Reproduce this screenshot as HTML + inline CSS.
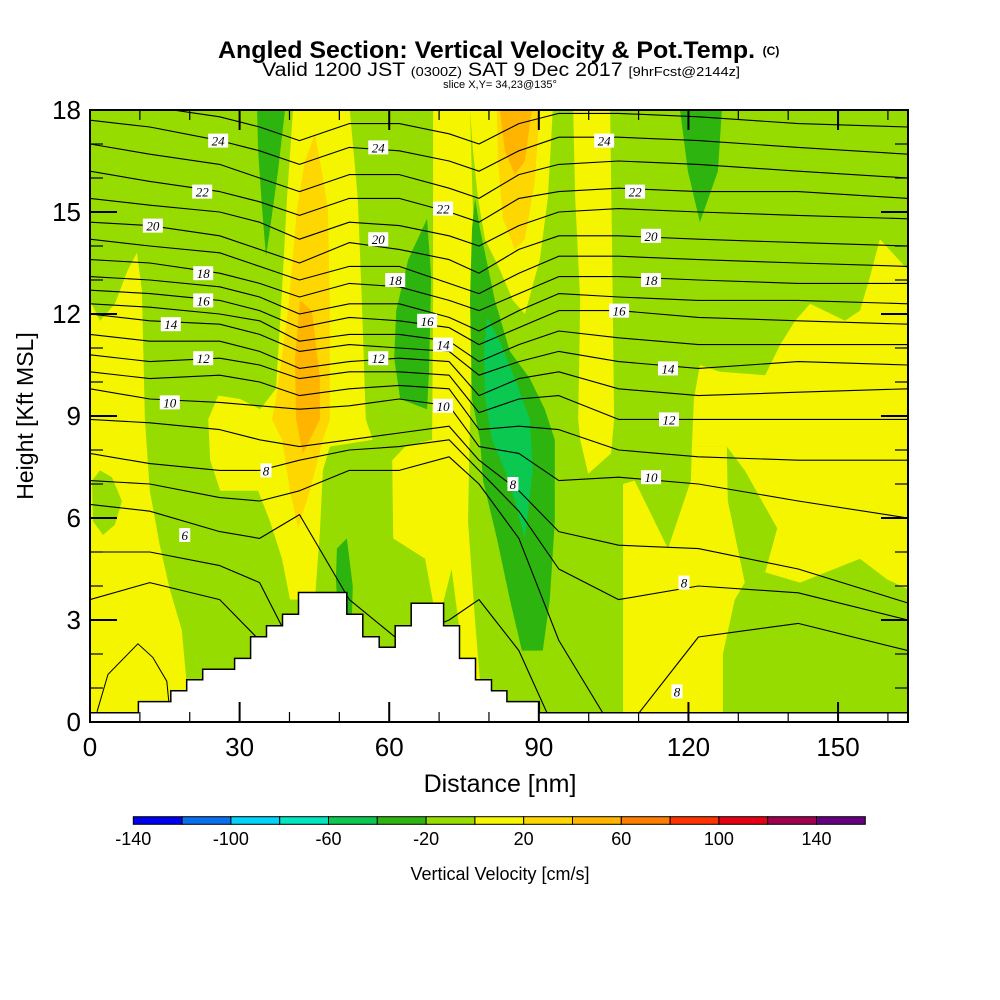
<!DOCTYPE html>
<html><head><meta charset="utf-8"><title>Angled Section: Vertical Velocity & Pot.Temp.</title>
<style>
html,body{margin:0;padding:0;background:#fff;}
svg{display:block;font-family:"Liberation Sans",Arial,sans-serif;}
</style></head>
<body>
<svg id="chart" width="1000" height="1000" viewBox="0 0 1000 1000" xmlns="http://www.w3.org/2000/svg">
  <defs><clipPath id="plotClip"><rect x="90" y="110" width="818" height="612"/></clipPath></defs>
  <g>
    <text x="218" y="58" font-size="24" font-weight="bold" textLength="537" lengthAdjust="spacingAndGlyphs">Angled Section: Vertical Velocity &amp; Pot.Temp.</text>
    <text x="771" y="55" text-anchor="middle" font-size="12" font-weight="bold">(C)</text>
    <text x="262" y="76" font-size="19" textLength="478" lengthAdjust="spacingAndGlyphs">Valid 1200 JST <tspan font-size="13">(0300Z)</tspan> SAT 9 Dec 2017 <tspan font-size="13">[9hrFcst@2144z]</tspan></text>
    <text x="500" y="88" text-anchor="middle" font-size="11">slice X,Y= 34,23@135°</text>
  </g>
  <g id="plot" clip-path="url(#plotClip)"></g>
  <g id="overlay"></g>
  <g id="axes"></g>
  <g id="cbar"></g>
  <text x="500" y="792" text-anchor="middle" font-size="25">Distance [nm]</text>
  <text x="0" y="0" transform="translate(33,416) rotate(-90)" text-anchor="middle" font-size="23">Height [Kft MSL]</text>
  <text x="500" y="880" text-anchor="middle" font-size="18">Vertical Velocity [cm/s]</text>
</svg>
<script>
// ---------- data ----------
const xTicks = [0, 30, 60, 90, 120, 150];
const yTicks = [0, 3, 6, 9, 12, 15, 18];
const cbarLevels = [-140,-120,-100,-80,-60,-40,-20,0,20,40,60,80,100,120,140,160];
const cbarLabels = [-140,-100,-60,-20,20,60,100,140];
const cbarColors = ["#0000f0","#0a6ef0","#00d2fa","#00e6be","#0ac850","#2db40f","#96dc00","#f5f500","#ffd700","#ffb400","#ff7d00","#ff3200","#e60014","#a00050","#640080"];

// vertical velocity regions [nm, kft]
const yellowLeft = [[0,12.4],[2.0,11.8],[5.0,12.3],[7.6,13.3],[9.4,13.8],[10.4,12.7],[11.0,8.9],[12.0,6.8],[14.0,5.2],[16.0,3.9],[18.4,2.7],[20.1,0],[0,0]];
const greenEllipseLeft = [[0.4,7.1],[2.0,7.4],[4.4,7.2],[6.4,6.5],[5.0,5.8],[2.6,5.5],[0.6,5.9]];
const yellowCenter = [[40.7,18],[52.1,18],[53.7,15.4],[54.5,12.4],[55.3,8.9],[56.7,8.3],[48.1,8.1],[46.7,7.4],[46.1,5.6],[45.1,3.6],[40.1,3.6],[38.5,4.8],[36.1,5.9],[33.7,6.8],[26.1,6.8],[24.1,7.7],[23.7,8.9],[25.7,9.6],[30.1,9.5],[34.1,9.2],[37.3,9.8],[38.5,12.7],[39.5,15.4]];
const goldCenter = [[45.1,17.3],[46.5,16.2],[47.7,15.1],[48.1,12.1],[48.1,8.9],[46.7,8.3],[44.1,6.8],[41.7,5.7],[40.1,6.8],[38.5,8.3],[36.5,8.9],[37.3,9.5],[39.7,12.1],[41.5,15.1],[43.1,16.5]];
const orangeCenter = [[42.1,12.4],[44.5,12.1],[46.1,10.1],[46.1,8.9],[44.1,8.3],[42.7,7.9],[41.3,8.9],[41.1,10.7]];
const darkGreenTopLeft = [[33.5,18],[39.1,18],[37.7,16.2],[36.1,14.5],[35.3,13.7],[34.5,15.1],[33.7,16.8]];
const yellowStripMid = [[68.8,18],[76.2,18],[77.0,13.9],[76.2,8.9],[75.8,5.9],[77.2,3.0],[78.2,1.2],[74.2,0.9],[70.2,2.4],[67.2,4.8],[60.8,5.4],[60.6,7.7],[63.2,8.1],[68.6,8.3],[68.8,12.4]];
const greenSpikeMid = [[69.6,2.8],[72.5,4.5],[74.2,2.6]];
const darkGreenMid = [[67.6,14.8],[68.4,13.1],[68.0,10.4],[67.6,9.2],[62.2,9.5],[61.0,10.7],[61.4,12.1],[63.8,13.6]];
const darkGreenSmall = [[49.5,5.1],[51.5,5.4],[52.7,4.0],[52.5,3.0],[49.7,3.2],[49.3,4.2]];
const yellowTop = [[76.2,18],[92.8,18],[91.8,15.4],[90.2,13.6],[87.2,12.0],[84.8,12.4],[82.2,13.3],[79.2,14.2],[77.8,15.4],[76.8,16.8]];
const goldTop = [[81.6,18],[90.2,18],[89.2,15.9],[87.2,14.2],[85.2,13.9],[82.8,14.8],[81.8,16.5]];
const orangeTop = [[82.2,18],[88.6,18],[87.2,16.5],[85.2,16.1],[83.2,16.8]];
const darkGreenDiagonal = [[77.2,15.4],[78.2,14.5],[81.2,12.4],[84.2,10.9],[88.2,10.1],[91.2,9.2],[93.2,8.3],[93.2,5.9],[92.2,3.6],[90.8,2.1],[86.6,2.1],[84.2,3.6],[81.6,5.4],[78.8,7.1],[78.2,8.3],[76.6,9.5],[76.2,12.4],[76.6,14.5]];
const tealDiagonal = [[79.6,11.9],[82.2,11.2],[85.2,10.1],[88.2,8.9],[88.8,7.4],[87.2,5.4],[85.2,6.5],[83.2,7.4],[80.6,8.3],[79.2,9.5],[79.0,10.9]];
const yellowStripRight = [[96.9,18],[104.3,18],[104.7,13.9],[105.1,8.9],[104.5,7.9],[99.9,7.3],[98.3,8.3],[97.9,8.9],[98.3,12.4],[97.3,15.4]];
const darkGreenTopRight = [[118.3,18],[126.7,18],[125.9,16.2],[122.3,14.7],[119.9,16.2]];
const yellowRightBig = [[164,13.3],[158.4,14.2],[156.4,13.1],[154.4,12.1],[151.4,11.8],[144.4,12.3],[141.4,11.8],[138.4,11.1],[135.4,10.2],[126.3,10.3],[122.3,10.5],[121.1,9.5],[120.7,8.1],[127.7,8.1],[131.3,7.4],[137.8,5.7],[135.4,4.4],[142.4,4.1],[154.4,4.8],[159.8,4.2],[164,3.9]];
const yellowRightColumn = [[106.9,7.0],[109.2,7.1],[115.9,5.1],[120.5,7.1],[120.7,8.1],[127.7,8.1],[127.9,6.5],[131.3,4.1],[129.3,3.6],[126.9,2.0],[126.9,0],[106.9,0]];

// potential temperature contours: heights (kft) at node distances (nm)
const thetaNodes = [0,12,26,34,42,52,62,72,78,86,94,106,122,142,164];
const thetaLevels = [25,24,23,22,21,20,19,18,17,16,15,14,13,12,11,10,9,8,7,6,5,4];
const theta25 = [18.3,18.1,17.8,17.5,17.1,17.6,17.6,17.3,17.0,17.6,17.9,17.9,17.8,17.6,17.5];
const theta24 = [17.7,17.5,17.1,16.8,16.4,16.9,16.8,16.5,16.2,16.8,17.2,17.2,17.1,16.9,16.7];
const theta23 = [17.0,16.7,16.4,16.0,15.6,16.1,16.1,15.7,15.4,16.1,16.4,16.5,16.4,16.2,16.0];
const theta22 = [16.2,15.9,15.6,15.3,14.9,15.4,15.4,15.0,14.7,15.4,15.6,15.7,15.6,15.6,15.4];
const theta21 = [15.4,15.2,15.0,14.7,14.2,14.7,14.6,14.3,14.0,14.6,15.0,15.1,15.0,14.9,14.8];
const theta20 = [14.7,14.6,14.3,13.9,13.5,14.1,13.9,13.6,13.2,13.9,14.3,14.3,14.2,14.1,14.0];
const theta19 = [14.2,14.0,13.8,13.4,13.0,13.4,13.4,12.9,12.6,13.2,13.7,13.7,13.6,13.5,13.4];
const theta18 = [13.6,13.5,13.2,12.9,12.5,12.9,12.8,12.4,12.1,12.6,13.1,13.1,13.0,12.9,12.9];
const theta17 = [13.1,13.0,12.8,12.5,12.0,12.3,12.3,11.9,11.5,12.1,12.6,12.5,12.4,12.4,12.3];
const theta16 = [12.7,12.6,12.4,12.1,11.6,11.9,11.8,11.6,11.1,11.6,12.1,12.1,11.9,11.8,11.7];
const theta15 = [12.3,12.2,12.0,11.8,11.2,11.4,11.4,11.2,10.6,11.1,11.5,11.3,11.1,11.1,11.1];
const theta14 = [12.0,11.8,11.7,11.4,10.9,11.1,11.0,10.9,10.2,10.6,10.9,10.6,10.4,10.6,10.5];
const theta13 = [11.4,11.2,11.2,10.9,10.4,10.6,10.7,10.6,9.6,10.1,10.3,9.8,9.6,9.7,9.8];
const theta12 = [10.8,10.6,10.7,10.5,10.1,10.3,10.3,10.2,9.1,9.5,9.6,8.9,8.9,8.9,8.9];
const theta11 = [10.3,10.1,10.2,10.0,9.6,9.8,9.9,9.8,8.6,8.7,8.6,8.0,7.8,7.7,7.7];
const theta10 = [9.8,9.5,9.4,9.3,9.2,9.3,9.5,9.3,8.1,7.9,7.1,7.2,7.0,6.5,6.0];
const theta9 = [8.9,8.8,8.6,8.3,8.1,8.3,8.5,8.7,7.7,6.8,5.6,5.2,5.1,4.5,3.5];
const theta8 = [7.9,7.6,7.4,7.4,7.7,8.0,8.1,8.3,7.4,6.2,4.5,3.6,4.0,3.8,3.0];
const theta7 = [7.1,7.0,6.6,6.5,6.8,7.4,7.4,7.8,7.0,5.4,2.4,-0.5,2.5,2.9,2.1];
const theta6 = [6.4,6.2,5.6,5.4,6.1,3.6,2.4,3.0,3.6,2.1,-0.5,-1.1,-0.5,-0.5,-0.5];
const theta5 = [5.0,5.0,4.6,4.1,1.8,-1.1,-1.1,-1.1,-1.1,-1.1,-1.1,-1.1,-1.1,-1.1,-1.1];
const theta4 = [3.6,4.1,3.6,2.4,-1.1,-1.1,-1.1,-1.1,-1.1,-1.1,-1.1,-1.1,-1.1,-1.1,-1.1];
const thetaRing3 = [[1.4,0.3],[3.6,1.4],[9.6,2.3],[12.6,1.9],[15.4,1.2],[16.0,0.3]];

// contour labels
const labelText = ["24","22","20","18","16","14","12","10","8","6","24","22","20","18","16","14","12","10","8","24","22","20","18","16","14","12","10","8","8"];
const labelNm = [25.7,22.5,12.6,22.7,22.7,16.2,22.7,16.0,35.3,19.0,57.8,70.8,57.8,61.2,67.6,70.8,57.8,70.8,84.8,103.1,109.3,112.5,112.5,106.1,115.9,116.1,112.5,119.1,117.7];
const labelKft = [17.1,15.6,14.6,13.2,12.4,11.7,10.7,9.4,7.4,5.5,16.9,15.1,14.2,13.0,11.8,11.1,10.7,9.3,7.0,17.1,15.6,14.3,13.0,12.1,10.4,8.9,7.2,4.1,0.9];

// terrain (step profile)
const terrainEdges = [0,9.7,16.2,19.4,22.6,29.0,32.2,35.4,38.6,41.8,51.5,54.7,58.0,61.2,64.4,70.9,74.1,77.3,80.5,83.6,90.1,165];
const terrainHeights = [0.27,0.6,0.92,1.24,1.55,1.87,2.51,2.83,3.17,3.81,3.17,2.51,2.2,2.83,3.49,2.83,1.87,1.24,0.92,0.6,0.27];

// ---------- scales ----------
const X0 = 90, PXNM = 4.987, Y0 = 722, PXK = 34, XR = 908, YT = 110;
function sx(v){ return X0 + v*PXNM; }
function sy(v){ return Y0 - v*PXK; }
const NS = "http://www.w3.org/2000/svg";
function mk(tag, attrs, parent){ const e=document.createElementNS(NS,tag); for(const k in attrs) e.setAttribute(k,attrs[k]); parent.appendChild(e); return e; }
function pts(arr){ return arr.map(p=>sx(p[0]).toFixed(1)+","+sy(p[1]).toFixed(1)).join(" "); }

const plot = document.getElementById("plot");
const overlay = document.getElementById("overlay");
const axes = document.getElementById("axes");
const cbar = document.getElementById("cbar");

const bg = mk("rect",{x:X0,y:YT,width:XR-X0,height:Y0-YT,fill:cbarColors[6]},plot);



const regions = [
  ["yellow-left-region", yellowLeft, cbarColors[7]],
  ["green-ellipse-left", greenEllipseLeft, cbarColors[6]],
  ["yellow-center-region", yellowCenter, cbarColors[7]],
  ["gold-center-region", goldCenter, cbarColors[8]],
  ["orange-center-region", orangeCenter, cbarColors[9]],
  ["dark-green-top-left", darkGreenTopLeft, cbarColors[5]],
  ["yellow-strip-mid", yellowStripMid, cbarColors[7]],
  ["green-spike-mid", greenSpikeMid, cbarColors[6]],
  ["dark-green-mid", darkGreenMid, cbarColors[5]],
  ["dark-green-small", darkGreenSmall, cbarColors[5]],
  ["yellow-top-region", yellowTop, cbarColors[7]],
  ["gold-top-region", goldTop, cbarColors[8]],
  ["orange-top-region", orangeTop, cbarColors[9]],
  ["dark-green-diagonal", darkGreenDiagonal, cbarColors[5]],
  ["teal-diagonal", tealDiagonal, cbarColors[4]],
  ["yellow-strip-right", yellowStripRight, cbarColors[7]],
  ["dark-green-top-right", darkGreenTopRight, cbarColors[5]],
  ["yellow-right-region", yellowRightBig, cbarColors[7]],
  ["yellow-right-column", yellowRightColumn, cbarColors[7]]
];
regions.forEach(r=>{
  const p = mk("polygon",{points:pts(r[1]),fill:r[2]},plot);
  
  
});

const thetaSeries = [theta25,theta24,theta23,theta22,theta21,theta20,theta19,theta18,theta17,theta16,theta15,theta14,theta13,theta12,theta11,theta10,theta9,theta8,theta7,theta6,theta5,theta4];
thetaSeries.forEach((s,i)=>{
  const arr = thetaNodes.map((n,j)=>[n,s[j]]);
  const l = mk("polyline",{points:pts(arr),fill:"none",stroke:"#000","stroke-width":1.1,"stroke-linejoin":"round"},plot);
  
  
});
const ring = mk("polyline",{points:pts(thetaRing3),fill:"none",stroke:"#000","stroke-width":1},plot);



let tp = [[0,-0.1]];
terrainHeights.forEach((h,i)=>{ tp.push([terrainEdges[i],h]); tp.push([terrainEdges[i+1],h]); });
tp.push([165,-0.1]);
const terr = mk("polygon",{points:pts(tp),fill:"#fff",stroke:"#000","stroke-width":1.5},plot);



labelText.forEach((t,i)=>{
  const g = mk("g",{},overlay);
  
  
  const w = t.length>1 ? 20 : 11;
  mk("rect",{x:sx(labelNm[i])-w/2,y:sy(labelKft[i])-7,width:w,height:14,fill:"#fff"},g);
  const tx = mk("text",{x:sx(labelNm[i]),y:sy(labelKft[i])+5,"text-anchor":"middle","font-size":13,"font-family":"Liberation Serif, serif","font-style":"italic"},g);
  tx.textContent = t;
});

const frame = mk("rect",{x:X0,y:YT,width:XR-X0,height:Y0-YT,fill:"none",stroke:"#000","stroke-width":2},axes);


for(let v=0; v<=164; v+=10){
  const major = (v%30===0);
  const L = major?20:10;
  const t1 = mk("line",{x1:sx(v),x2:sx(v),y1:Y0,y2:Y0-L,stroke:"#000","stroke-width":major?2:1.2},axes);
  
  
  const t2 = mk("line",{x1:sx(v),x2:sx(v),y1:YT,y2:YT+L,stroke:"#000","stroke-width":major?2:1.2},axes);
  
  
}
for(let v=0; v<=18; v+=1){
  const major = (v%3===0);
  const L = major?27:13;
  const t1 = mk("line",{x1:X0,x2:X0+L,y1:sy(v),y2:sy(v),stroke:"#000","stroke-width":major?2:1.2},axes);
  
  
  const t2 = mk("line",{x1:XR,x2:XR-L,y1:sy(v),y2:sy(v),stroke:"#000","stroke-width":major?2:1.2},axes);
  
  
}
xTicks.forEach(v=>{
  const t = mk("text",{x:sx(v),y:Y0+34,"text-anchor":"middle","font-size":26},axes);
  
  
  t.textContent = v;
});
yTicks.forEach(v=>{
  const t = mk("text",{x:81,y:sy(v)+9,"text-anchor":"end","font-size":26},axes);
  
  
  t.textContent = v;
});

const CB0 = 133.3, CBW = 48.8, CBY = 816.7, CBH = 7.6;
function cx(v){ return CB0 + (v - cbarLevels[0]) / 20 * CBW; }
cbarColors.forEach((c,i)=>{
  const r = mk("rect",{x:cx(cbarLevels[i]),y:CBY,width:CBW,height:CBH,fill:c,stroke:"#000","stroke-width":1},cbar);
  
  
});
cbarLabels.forEach(v=>{
  const t = mk("text",{x:cx(v),y:845,"text-anchor":"middle","font-size":18},cbar);
  
  
  t.textContent = v;
});
</script>
</body></html>
